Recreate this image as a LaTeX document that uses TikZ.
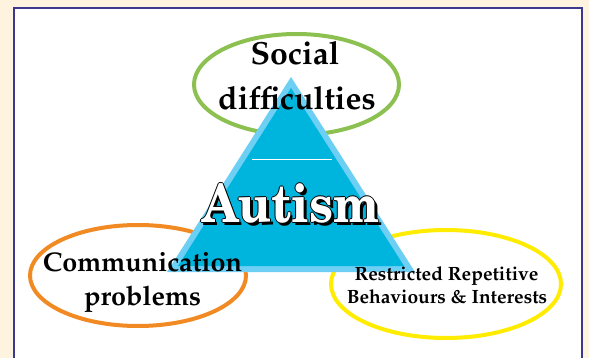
\documentclass[tikz,border=0pt]{standalone}
\usepackage[T1]{fontenc}
\usepackage{mathpazo}
\usepackage{graphicx}
\usepackage{xcolor}

\definecolor{cream}{HTML}{FDF3DF}
\definecolor{framecol}{HTML}{3B3890}
\definecolor{socialgreen}{HTML}{8CC152}
\definecolor{commorange}{HTML}{F28A24}
\definecolor{rrbyellow}{HTML}{FFEC00}
\definecolor{trilight}{HTML}{6DCFF3}
\definecolor{tridark}{HTML}{00B5DD}

\tikzset{
    ring/.style={line width=4pt},
    bigtxt/.style={anchor=base, font=\bfseries\fontsize{32}{38}\selectfont},
    midtxt/.style={anchor=base, font=\bfseries\fontsize{27}{32}\selectfont},
    smalltxt/.style={anchor=base, font=\bfseries\fontsize{19.2}{23}\selectfont},
    autfont/.style={anchor=base, font=\fontfamily{pnc}\bfseries\fontsize{48}{56}\selectfont}
}
\newcommand{\auttext}{\scalebox{1}[1.1]{Autism}}

\begin{document}
\begin{tikzpicture}[x=1pt,y=-1pt]
    \useasboundingbox (0,0) rectangle (589,358);
    \clip (0,0) rectangle (589,358);

    % Page and framed panel
    \fill[cream] (0,0) rectangle (589,358);
    \draw[framecol, line width=1.8pt, fill=white] (14,8) rectangle (582,380);

    % Rings behind the triangle
    \draw[ring, socialgreen] (296.5,84.5) ellipse (102.5 and 50.5);
    \draw[ring, commorange] (138,275.5) ellipse (108 and 50.5);
    \draw[ring, rrbyellow] (446,284) ellipse (115 and 54);

    % Triangle, light rim and dark face
    \fill[trilight] (167,272) -- (415,272) -- (291,77) -- cycle;
    \fill[tridark] (178,266) -- (404,266) -- (291,88) -- cycle;
    \draw[white, line width=0.8pt] (252,159) -- (332,159);

    % Autism: shadow and outline, then white letters
    \node[autfont, black] (autshadow) at (293.5,225.5) {\auttext};
    \foreach \dx/\dy in {-1/0, 1/0, 0/-1, 0/1} {
        \node[autfont, black] at (291+\dx,223+\dy) {\auttext};
    }
    \node[autfont, white] (autism) at (291,223) {\auttext};

    % Labels of the three rings
    \node[bigtxt] (social) at (295,65) {Social};
    \node[bigtxt] (socialb) at (297,110) {difficulties};
    \node[midtxt] (comm) at (142.5,272) {Communication};
    \node[midtxt] (commb) at (142.5,305) {problems};
    \node[smalltxt] (rrb) at (446.5,280) {Restricted Repetitive};
    \node[smalltxt] (rrbb) at (447,303) {Behaviours \& Interests};
\end{tikzpicture}
\end{document}
